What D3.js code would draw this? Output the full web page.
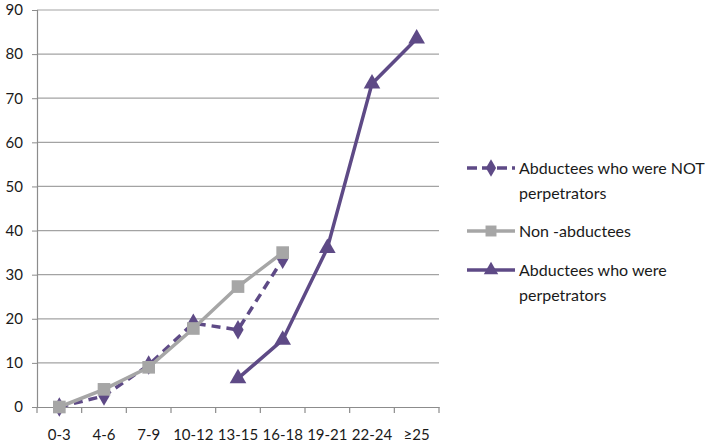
<!DOCTYPE html>
<html>
<head>
<meta charset="utf-8">
<script src="https://cdn.jsdelivr.net/npm/d3@7"></script>
<style>
  body { margin: 0; background: #fff; }
  text { font-family: Lato, "Open Sans", sans-serif; fill: #1a1a1a; }
</style>
</head>
<body>
<svg id="chart" width="709" height="446"></svg>
<script>
const categories = ['0-3', '4-6', '7-9', '10-12', '13-15', '16-18', '19-21', '22-24', '≥25']
const notPerpetrators = [0, 2.5, 9.5, 19, 17.5, 33.5, null, null, null]
const nonAbductees = [0, 4, 9, 17.8, 27.3, 35, null, null, null]
const perpetrators = [null, null, null, null, 6.5, 15.2, 36, 73.3, 83.5]
const yTicks = [0, 10, 20, 30, 40, 50, 60, 70, 80, 90]

const purple = '#5e4a86'
const grey = '#a6a6a6'

const margin = { top: 10, right: 270, bottom: 39, left: 37 }
const width = 709 - margin.left - margin.right
const height = 446 - margin.top - margin.bottom

const svg = d3.select('#chart')
  .append('g')
  .attr('transform', `translate(${margin.left},${margin.top})`)

const x = d3.scaleBand().domain(categories).range([0, width])
const y = d3.scaleLinear().domain([0, 90]).range([height, 0])

// grid
svg.append('g')
  .selectAll('line')
  .data(yTicks.slice(1))
  .enter().append('line')
  .attr('x1', 0)
  .attr('x2', width)
  .attr('y1', d => y(d))
  .attr('y2', d => y(d))
  .attr('stroke', '#a3a3a3')
  .attr('stroke-width', 1.2)

const yAxis = svg.append('g')
  .call(d3.axisLeft(y).tickValues(yTicks).tickSize(5).tickPadding(9))
yAxis.select('.domain').attr('stroke', '#8c8c8c').attr('stroke-width', 1.2)
yAxis.selectAll('.tick line').attr('stroke', '#8c8c8c')
yAxis.selectAll('text').style('font-size', '15px').attr('fill', '#1a1a1a')

const xAxis = svg.append('g')
  .attr('transform', `translate(0,${height})`)
  .call(d3.axisBottom(x).tickSize(0).tickPadding(22))
xAxis.select('.domain').attr('stroke', '#8c8c8c').attr('stroke-width', 1.2)
xAxis.selectAll('text').style('font-size', '15px').attr('fill', '#1a1a1a')

// tick marks on band edges
svg.append('g')
  .selectAll('line')
  .data(categories.concat(['end']))
  .enter().append('line')
  .attr('x1', (d, i) => i * x.step())
  .attr('x2', (d, i) => i * x.step())
  .attr('y1', height)
  .attr('y2', height + 6)
  .attr('stroke', '#8c8c8c')
  .attr('stroke-width', 1.2)

const cx = (d, i) => x(categories[i]) + x.bandwidth() / 2
const line = d3.line()
  .defined(d => d !== null)
  .x(cx)
  .y(d => y(d))

const series = [
  { name: 'notPerp', values: notPerpetrators, color: purple, dash: '9,6', symbol: d3.symbolDiamond, size: 110 },
  { name: 'nonAbductees', values: nonAbductees, color: grey, dash: null, symbol: d3.symbolSquare, size: 160 },
  { name: 'perp', values: perpetrators, color: purple, dash: null, symbol: d3.symbolTriangle, size: 120 }
]

series.forEach(s => {
  svg.append('path')
    .datum(s.values)
    .attr('fill', 'none')
    .attr('stroke', s.color)
    .attr('stroke-width', 3.5)
    .attr('stroke-dasharray', s.dash)
    .attr('d', line)

  svg.append('g')
    .selectAll('path')
    .data(s.values.map((v, i) => ({ v, i })).filter(d => d.v !== null))
    .enter().append('path')
    .attr('transform', d => `translate(${cx(null, d.i)},${y(d.v)})`)
    .attr('d', d3.symbol().type(s.symbol).size(s.size))
    .attr('fill', s.color)
})

// legend
const legendItems = [
  { lines: ['Abductees who were NOT', 'perpetrators'], color: purple, dash: '10,5', symbol: d3.symbolDiamond, size: 90, y: 168 },
  { lines: ['Non -abductees'], color: grey, dash: null, symbol: d3.symbolSquare, size: 120, y: 231 },
  { lines: ['Abductees who were', 'perpetrators'], color: purple, dash: null, symbol: d3.symbolTriangle, size: 90, y: 270 }
]

const legend = d3.select('#chart').append('g')
legendItems.forEach(item => {
  const g = legend.append('g').attr('transform', `translate(467,${item.y})`)
  g.append('line')
    .attr('x1', 0).attr('x2', 48)
    .attr('stroke', item.color)
    .attr('stroke-width', 3.5)
    .attr('stroke-dasharray', item.dash)
  g.append('path')
    .attr('transform', 'translate(24,0)')
    .attr('d', d3.symbol().type(item.symbol).size(item.size))
    .attr('fill', item.color)
  item.lines.forEach((t, i) => {
    g.append('text')
      .attr('x', 52)
      .attr('y', i * 25)
      .attr('dy', '0.35em')
      .style('font-size', '16px')
      .text(t)
  })
})
</script>
</body>
</html>
